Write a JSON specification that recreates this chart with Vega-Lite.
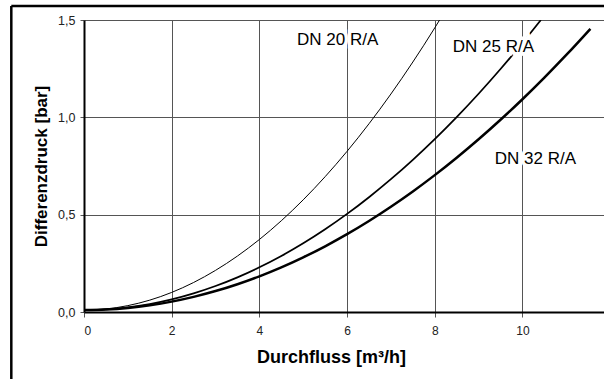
{
  "$schema": "https://vega.github.io/schema/vega-lite/v6.json",
  "width": 520,
  "height": 292,
  "autosize": {"type": "none"},
  "padding": {"left": 84, "top": 20, "right": 0, "bottom": 67},
  "background": "white",
  "config": {
    "view": {"stroke": null},
    "font": "Liberation Sans"
  },
  "datasets": {
    "curves": [
      {"q": 0, "dp": 0.01, "s": "DN 20 R/A"},
      {"q": 0.5, "dp": 0.0157, "s": "DN 20 R/A"},
      {"q": 1, "dp": 0.0327, "s": "DN 20 R/A"},
      {"q": 1.5, "dp": 0.061, "s": "DN 20 R/A"},
      {"q": 2, "dp": 0.1006, "s": "DN 20 R/A"},
      {"q": 2.5, "dp": 0.1516, "s": "DN 20 R/A"},
      {"q": 3, "dp": 0.2139, "s": "DN 20 R/A"},
      {"q": 3.5, "dp": 0.2875, "s": "DN 20 R/A"},
      {"q": 4, "dp": 0.3724, "s": "DN 20 R/A"},
      {"q": 4.5, "dp": 0.4687, "s": "DN 20 R/A"},
      {"q": 5, "dp": 0.5763, "s": "DN 20 R/A"},
      {"q": 5.5, "dp": 0.6952, "s": "DN 20 R/A"},
      {"q": 6, "dp": 0.8254, "s": "DN 20 R/A"},
      {"q": 6.5, "dp": 0.967, "s": "DN 20 R/A"},
      {"q": 7, "dp": 1.1199, "s": "DN 20 R/A"},
      {"q": 7.5, "dp": 1.2841, "s": "DN 20 R/A"},
      {"q": 8, "dp": 1.4596, "s": "DN 20 R/A"},
      {"q": 8.11, "dp": 1.5, "s": "DN 20 R/A"},
      {"q": 0, "dp": 0.01, "s": "DN 25 R/A"},
      {"q": 0.5, "dp": 0.0134, "s": "DN 25 R/A"},
      {"q": 1, "dp": 0.0237, "s": "DN 25 R/A"},
      {"q": 1.5, "dp": 0.0409, "s": "DN 25 R/A"},
      {"q": 2, "dp": 0.0649, "s": "DN 25 R/A"},
      {"q": 2.5, "dp": 0.0958, "s": "DN 25 R/A"},
      {"q": 3, "dp": 0.1335, "s": "DN 25 R/A"},
      {"q": 3.5, "dp": 0.1781, "s": "DN 25 R/A"},
      {"q": 4, "dp": 0.2295, "s": "DN 25 R/A"},
      {"q": 4.5, "dp": 0.2878, "s": "DN 25 R/A"},
      {"q": 5, "dp": 0.353, "s": "DN 25 R/A"},
      {"q": 5.5, "dp": 0.425, "s": "DN 25 R/A"},
      {"q": 6, "dp": 0.5039, "s": "DN 25 R/A"},
      {"q": 6.5, "dp": 0.5897, "s": "DN 25 R/A"},
      {"q": 7, "dp": 0.6823, "s": "DN 25 R/A"},
      {"q": 7.5, "dp": 0.7818, "s": "DN 25 R/A"},
      {"q": 8, "dp": 0.8881, "s": "DN 25 R/A"},
      {"q": 8.5, "dp": 1.0013, "s": "DN 25 R/A"},
      {"q": 9, "dp": 1.1213, "s": "DN 25 R/A"},
      {"q": 9.5, "dp": 1.2482, "s": "DN 25 R/A"},
      {"q": 10, "dp": 1.382, "s": "DN 25 R/A"},
      {"q": 10.42, "dp": 1.5, "s": "DN 25 R/A"},
      {"q": 0, "dp": 0.01, "s": "DN 32 R/A"},
      {"q": 0.5, "dp": 0.0127, "s": "DN 32 R/A"},
      {"q": 1, "dp": 0.0208, "s": "DN 32 R/A"},
      {"q": 1.5, "dp": 0.0344, "s": "DN 32 R/A"},
      {"q": 2, "dp": 0.0533, "s": "DN 32 R/A"},
      {"q": 2.5, "dp": 0.0777, "s": "DN 32 R/A"},
      {"q": 3, "dp": 0.1075, "s": "DN 32 R/A"},
      {"q": 3.5, "dp": 0.1427, "s": "DN 32 R/A"},
      {"q": 4, "dp": 0.1833, "s": "DN 32 R/A"},
      {"q": 4.5, "dp": 0.2293, "s": "DN 32 R/A"},
      {"q": 5, "dp": 0.2808, "s": "DN 32 R/A"},
      {"q": 5.5, "dp": 0.3376, "s": "DN 32 R/A"},
      {"q": 6, "dp": 0.3999, "s": "DN 32 R/A"},
      {"q": 6.5, "dp": 0.4676, "s": "DN 32 R/A"},
      {"q": 7, "dp": 0.5407, "s": "DN 32 R/A"},
      {"q": 7.5, "dp": 0.6192, "s": "DN 32 R/A"},
      {"q": 8, "dp": 0.7031, "s": "DN 32 R/A"},
      {"q": 8.5, "dp": 0.7925, "s": "DN 32 R/A"},
      {"q": 9, "dp": 0.8872, "s": "DN 32 R/A"},
      {"q": 9.5, "dp": 0.9874, "s": "DN 32 R/A"},
      {"q": 10, "dp": 1.093, "s": "DN 32 R/A"},
      {"q": 10.5, "dp": 1.204, "s": "DN 32 R/A"},
      {"q": 11, "dp": 1.3204, "s": "DN 32 R/A"},
      {"q": 11.55, "dp": 1.4548, "s": "DN 32 R/A"}
    ],
    "labels": [
      {"q": 4.86, "dp": 1.397, "s": "DN 20 R/A"},
      {"q": 8.41, "dp": 1.361, "s": "DN 25 R/A"},
      {"q": 9.37, "dp": 0.786, "s": "DN 32 R/A"}
    ]
  },
  "layer": [
    {
      "data": {"name": "curves"},
      "mark": {"type": "line", "interpolate": "monotone", "color": "black", "clip": true},
      "encoding": {
        "x": {
          "field": "q", "type": "quantitative",
          "scale": {"domain": [0, 11.86], "nice": false, "zero": false},
          "axis": {
            "title": "Durchfluss [m³/h]",
            "values": [0, 2, 4, 6, 8, 10],
            "grid": true, "gridColor": "#555", "gridOpacity": 1, "gridWidth": 1,
            "domainColor": "black", "domainWidth": 2,
            "tickColor": "#555", "tickSize": 5,
            "labelFontSize": 12, "labelColor": "#222", "labelPadding": 8,
            "titleFontSize": 18, "titleFontWeight": "bold", "titleColor": "black",
            "titlePadding": 12, "titleX": 247, "titleAnchor": "middle"
          }
        },
        "y": {
          "field": "dp", "type": "quantitative",
          "scale": {"domain": [0, 1.5], "nice": false},
          "axis": {
            "title": "Differenzdruck [bar]",
            "values": [0, 0.5, 1, 1.5],
            "labelExpr": "replace(format(datum.value, '.1f'), '.', ',')",
            "grid": true, "gridColor": "#555", "gridOpacity": 1, "gridWidth": 1,
            "domainColor": "black", "domainWidth": 2,
            "tickColor": "#555", "tickSize": 4,
            "labelFontSize": 12.5, "labelColor": "#222", "labelPadding": 5,
            "titleFontSize": 17, "titleFontWeight": "bold", "titleColor": "black",
            "titlePadding": 7
          }
        },
        "detail": {"field": "s"},
        "strokeWidth": {
          "field": "s", "type": "nominal",
          "scale": {"domain": ["DN 20 R/A", "DN 25 R/A", "DN 32 R/A"], "range": [1, 2.5, 2.5]},
          "legend": null
        }
      }
    },
    {
      "data": {"name": "labels"},
      "mark": {"type": "text", "align": "left", "baseline": "middle", "fontSize": 17, "stroke": "white", "strokeWidth": 7, "fill": "white"},
      "encoding": {
        "x": {"field": "q", "type": "quantitative"},
        "y": {"field": "dp", "type": "quantitative"},
        "text": {"field": "s"}
      }
    },
    {
      "data": {"name": "labels"},
      "mark": {"type": "text", "align": "left", "baseline": "middle", "fontSize": 17, "color": "black"},
      "encoding": {
        "x": {"field": "q", "type": "quantitative"},
        "y": {"field": "dp", "type": "quantitative"},
        "text": {"field": "s"}
      }
    },
    {
      "data": {"values": [{}]},
      "mark": {"type": "rule", "color": "black", "strokeWidth": 2.5},
      "encoding": {
        "x": {"datum": -1.658, "type": "quantitative"},
        "y": {"datum": 1.572, "type": "quantitative"},
        "y2": {"datum": -0.5}
      }
    },
    {
      "data": {"values": [{}]},
      "mark": {"type": "rule", "color": "black", "strokeWidth": 2.5},
      "encoding": {
        "x": {"datum": -1.658, "type": "quantitative"},
        "x2": {"datum": 13},
        "y": {"datum": 1.572, "type": "quantitative"}
      }
    }
  ]
}
